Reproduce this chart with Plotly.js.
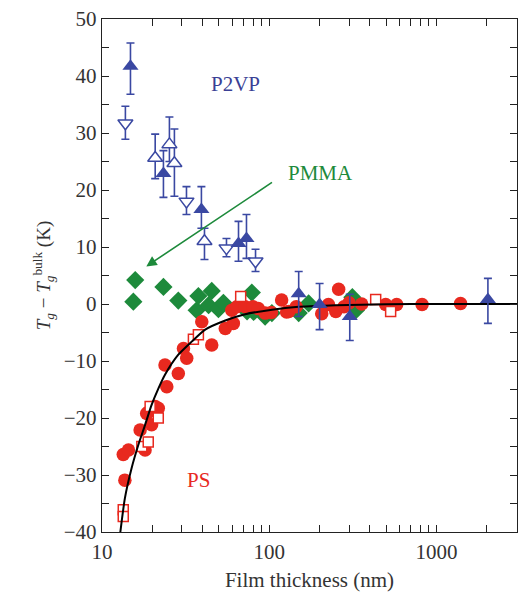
<!DOCTYPE html>
<html>
<head>
<meta charset="utf-8">
<script src="https://cdn.plot.ly/plotly-3.0.1.min.js"></script>
<style>html,body{margin:0;padding:0;background:#fff;}#chart{width:519px;height:593px;}</style>
</head>
<body>
<div id="chart"></div>
<script>
// P2VP filled up-triangles
var p2vpFilledX = [14.8, 23.3, 39.3, 65.5, 73.1, 150, 200, 303, 2030];
var p2vpFilledY = [41.7, 22.9, 16.6, 10.6, 11.5, 1.8, -0.1, -2.2, 0.8];
var p2vpFilledErrUp = [4.1, 4.0, 4.0, 3.9, 4.2, 3.9, 3.7, 3.9, 3.7];
var p2vpFilledErrDown = [4.9, 4.2, 3.3, 3.1, 3.5, 4.0, 4.4, 4.2, 4.2];
// P2VP open down-triangles
var p2vpDownX = [13.8, 32, 55.5, 82.8];
var p2vpDownY = [31.7, 18, 9.8, 7.5];
var p2vpDownErrUp = [3.0, 2.6, 1.7, 2.1];
var p2vpDownErrDown = [2.8, 2.3, 1.5, 1.8];
// P2VP open up-triangles
var p2vpUpX = [20.8, 25.3, 27.1, 41];
var p2vpUpY = [25.6, 28, 24.7, 11];
var p2vpUpErrUp = [4.2, 4.8, 6.0, 2.3];
var p2vpUpErrDown = [3.6, 3.0, 5.8, 3.2];
// PMMA diamonds
var pmmaX = [15.8, 15.4, 23.3, 28.6, 36.8, 37.7, 43.4, 45.3, 49.7, 53.2, 73.7, 78.7, 80.6, 94.5, 103.7, 150, 172, 314, 330];
var pmmaY = [4.2, 0.4, 3.0, 0.6, -1.1, 1.4, -0.2, 2.3, -0.9, 0.2, -1.3, 2.0, -1.4, -2.2, -1.6, -1.6, 0.1, 1.2, -1.1];
// PS filled circles
var psCircX = [13.7, 13.4, 14.4, 16.9, 18.1, 18.5, 18.9, 19.8, 20.8, 21.7, 23.8, 24.4, 28.6, 30.7, 32.1, 39.5, 45.3, 54.6, 59.7, 61, 64, 71.8, 80, 86, 94.6, 103, 118.6, 127, 131, 145, 206, 226, 250, 260, 280, 300, 357, 497, 578, 820, 1393];
var psCircY = [-30.9, -26.4, -25.6, -22.1, -25.6, -19.2, -19.0, -21.2, -18.0, -18.3, -10.7, -14.5, -12.2, -7.8, -9.5, -3.1, -7.2, -4.3, -1.1, -3.4, -0.5, -0.5, -0.5, -0.8, -1.6, -1.5, 0.7, -1.4, -1.3, -0.5, -1.7, -0.1, -1.3, 2.6, -0.5, 0.2, 0.0, -0.1, -0.1, -0.1, 0.1];
// PS open squares
var psSqX = [13.4, 13.4, 17.3, 18.9, 19.4, 21.7, 35.2, 37.7, 67.5, 433, 532];
var psSqY = [-36.1, -37.3, -25.0, -24.2, -18.0, -20.0, -6.2, -5.4, 1.3, 0.8, -1.3];
// Fitted curve
var fitX = [12.8, 13.7, 15.0, 16.5, 18.1, 19.8, 21.75, 23.8, 28.6, 34.4, 41.4, 54.6, 71.8, 104, 150, 250, 500, 1000, 3100];
var fitY = [-40.6, -34.1, -28.9, -24.7, -21.2, -17.7, -14.8, -12.4, -8.9, -6.6, -4.5, -2.9, -1.8, -1.0, -0.5, -0.2, -0.05, 0, 0];
// Axis ticks
var xTickVals = [10, 100, 1000];
var xTickText = ['10', '100', '1000'];
var xMinorVals = [20,30,40,50,60,70,80,90,200,300,400,500,600,700,800,900,2000,3000];
var yTickVals = [-40,-30,-20,-10,0,10,20,30,40,50];
var yTickText = ['\u221240','\u221230','\u221220','\u221210','0','10','20','30','40','50'];
var yMinorVals = [-35,-25,-15,-5,5,15,25,35,45];

var blue = '#3a48a2', green = '#1d8a3b', red = '#e8291f';

function errObj(up, down){
  return {type:'data', symmetric:false, array:up, arrayminus:down, color:blue, thickness:1.6, width:4};
}

var traces = [
  {x:pmmaX, y:pmmaY, mode:'markers', type:'scatter',
   marker:{symbol:'diamond', size:14, color:green, line:{width:0}}},
  {x:psCircX, y:psCircY, mode:'markers', type:'scatter',
   marker:{symbol:'circle', size:13.5, color:red, line:{width:0}}},
  {x:psSqX, y:psSqY, mode:'markers', type:'scatter',
   marker:{symbol:'square', size:10, color:'white', line:{width:1.5, color:red}}},
  {x:fitX, y:fitY, mode:'lines', type:'scatter',
   line:{color:'black', width:2, shape:'spline', smoothing:0.6}},
  {x:p2vpDownX, y:p2vpDownY, mode:'markers', type:'scatter', error_y:errObj(p2vpDownErrUp, p2vpDownErrDown),
   marker:{symbol:'triangle-down', size:13, color:'white', line:{width:1.5, color:blue}}},
  {x:p2vpUpX, y:p2vpUpY, mode:'markers', type:'scatter', error_y:errObj(p2vpUpErrUp, p2vpUpErrDown),
   marker:{symbol:'triangle-up', size:13, color:'white', line:{width:1.5, color:blue}}},
  {x:p2vpFilledX, y:p2vpFilledY, mode:'markers', type:'scatter', error_y:errObj(p2vpFilledErrUp, p2vpFilledErrDown),
   marker:{symbol:'triangle-up', size:14, color:blue, line:{width:0}}}
];

var serif = 'Liberation Serif, Times New Roman, serif';
var layout = {
  width:519, height:593,
  margin:{l:102, r:2, t:19, b:61},
  paper_bgcolor:'white', plot_bgcolor:'white',
  showlegend:false,
  font:{family:serif, size:20, color:'#222'},
  xaxis:{type:'log', range:[1, Math.log10(3030)], tickmode:'array', tickvals:xTickVals, ticktext:xTickText,
    ticks:'inside', ticklen:7, tickwidth:1, tickcolor:'#222', showline:true, linecolor:'#222', linewidth:1.3,
    minor:{tickmode:'array', tickvals:xMinorVals, ticks:'inside', ticklen:7, tickwidth:1, tickcolor:'#222', showgrid:false},
    mirror:'ticks', showgrid:false, zeroline:false, tickfont:{family:serif, size:21, color:'#333'},
    title:{text:'Film thickness (nm)', font:{family:serif, size:21, color:'#333'}, standoff:9}},
  yaxis:{range:[-40, 50], tickmode:'array', tickvals:yTickVals, ticktext:yTickText,
    ticks:'inside', ticklen:7, tickwidth:1, tickcolor:'#222', showline:true, linecolor:'#222', linewidth:1.3,
    minor:{tickmode:'array', tickvals:yMinorVals, ticks:'inside', ticklen:7, tickwidth:1, tickcolor:'#222', showgrid:false},
    mirror:'ticks', showgrid:false, zeroline:false, tickfont:{family:serif, size:21, color:'#333'},
    title:{text:'<i>T</i><sub><i>g</i></sub> \u2212 <i>T</i><sub><i>g</i></sub><sup>bulk</sup> (K)', font:{family:serif, size:19, color:'#333'}, standoff:8}},
  annotations:[
    {x:Math.log10(62.8), y:38.6, xref:'x', yref:'y', text:'P2VP', showarrow:false, font:{family:serif, size:21, color:'#3a3f95'}},
    {x:Math.log10(203), y:22.9, xref:'x', yref:'y', text:'PMMA', showarrow:false, font:{family:serif, size:21, color:green}},
    {x:Math.log10(37.7), y:-30.8, xref:'x', yref:'y', text:'PS', showarrow:false, font:{family:serif, size:21, color:red}},
    {x:Math.log10(18.4), y:6.6, ax:Math.log10(106), ay:21.5, xref:'x', yref:'y', axref:'x', ayref:'y',
     text:'', showarrow:true, arrowhead:2, arrowsize:1.3, arrowwidth:1.6, arrowcolor:green}
  ]
};

Plotly.newPlot('chart', traces, layout, {displayModeBar:false, staticPlot:true});
</script>
</body>
</html>
